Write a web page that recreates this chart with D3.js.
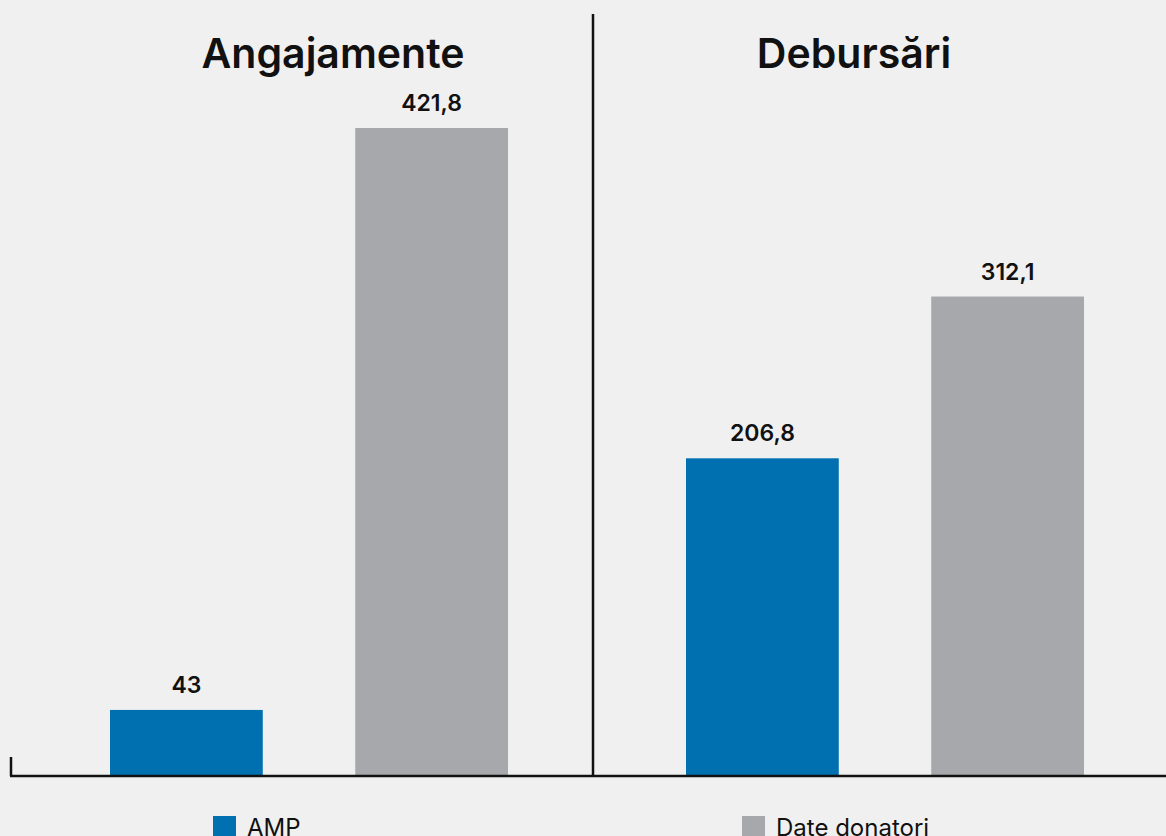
<!DOCTYPE html>
<html>
<head>
<meta charset="utf-8">
<script src="https://cdn.jsdelivr.net/npm/d3@7"></script>
<style>
  html, body { margin: 0; padding: 0; background: #f0f0f0; }
  svg { display: block; font-family: Inter, "Open Sans", sans-serif; }
</style>
</head>
<body>
<div id="chart"></div>
<script>
var groups = ["Angajamente", "Debursări"];
var series = ["AMP", "Date donatori"];
var ampValues = [43, 206.8];
var donorValues = [421.8, 312.1];
var valueLabels = [["43", "421,8"], ["206,8", "312,1"]];
var colors = ["#0070b0", "#a7a8ab"];

var chart = {};

chart.init = function() {
    var width = 1166, height = 836;
    var baseY = 776;
    var dividerX = 593;

    var svg = d3.select("#chart")
        .append("svg")
        .attr("width", width)
        .attr("height", height);

    svg.append("rect")
        .attr("width", width)
        .attr("height", height)
        .attr("fill", "#f0f0f0");

    var data = [];
    groups.forEach(function(g, i) {
        data.push({group: g, series: series[0], value: ampValues[i], label: valueLabels[i][0]});
        data.push({group: g, series: series[1], value: donorValues[i], label: valueLabels[i][1]});
    });

    // outer scale for the two panels
    var x0 = d3.scaleBand()
        .domain(groups)
        .range([13, 1165]);

    // inner scale for the series inside a panel
    var x1 = d3.scaleBand()
        .domain(series)
        .range([97, 495])
        .paddingInner(0.377);

    var y = d3.scaleLinear()
        .domain([0, 421.8])
        .range([baseY, 128]);

    var color = d3.scaleOrdinal().domain(series).range(colors);

    // bars
    svg.append("g")
        .selectAll("rect")
        .data(data)
        .enter()
        .append("rect")
        .attr("x", function(d) { return x0(d.group) + x1(d.series); })
        .attr("y", function(d) { return y(d.value); })
        .attr("width", x1.bandwidth())
        .attr("height", function(d) { return baseY - y(d.value); })
        .attr("fill", function(d) { return color(d.series); });

    // value labels
    svg.append("g")
        .selectAll("text")
        .data(data)
        .enter()
        .append("text")
        .attr("x", function(d) { return x0(d.group) + x1(d.series) + x1.bandwidth() / 2; })
        .attr("y", function(d) { return y(d.value) - 17; })
        .attr("text-anchor", "middle")
        .style("font-size", "23px")
        .style("font-weight", 600)
        .style("fill", "#111")
        .text(function(d) { return d.label; });

    // panel titles
    var titleX = [333, 854];
    svg.append("g")
        .selectAll("text")
        .data(groups)
        .enter()
        .append("text")
        .attr("x", function(d, i) { return titleX[i]; })
        .attr("y", 68)
        .attr("text-anchor", "middle")
        .style("font-size", "41px")
        .style("font-weight", 600)
        .style("fill", "#111")
        .text(function(d) { return d; });

    // baseline, left tick and divider
    svg.append("line")
        .attr("x1", 10).attr("x2", width)
        .attr("y1", baseY).attr("y2", baseY)
        .attr("stroke", "#111").attr("stroke-width", 2.5);
    svg.append("line")
        .attr("x1", 11).attr("x2", 11)
        .attr("y1", 757).attr("y2", baseY)
        .attr("stroke", "#111").attr("stroke-width", 2.5);
    svg.append("line")
        .attr("x1", dividerX).attr("x2", dividerX)
        .attr("y1", 14).attr("y2", baseY)
        .attr("stroke", "#111").attr("stroke-width", 2.5);

    // legend
    var legendX = [213, 742];
    var legend = svg.append("g")
        .selectAll("g")
        .data(series)
        .enter()
        .append("g")
        .attr("transform", function(d, i) { return "translate(" + legendX[i] + ",816)"; });
    legend.append("rect")
        .attr("width", 23)
        .attr("height", 23)
        .attr("fill", function(d) { return color(d); });
    legend.append("text")
        .attr("x", 34)
        .attr("y", 20)
        .style("font-size", "24px")
        .style("fill", "#111")
        .text(function(d) { return d; });
};

chart.init();
</script>
</body>
</html>
